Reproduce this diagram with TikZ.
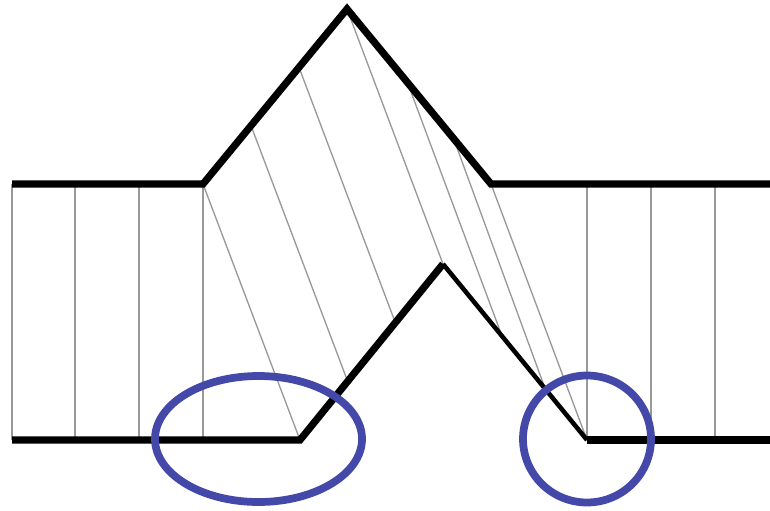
\documentclass[tikz,border=0pt]{standalone}
\usepackage{xcolor}
\usepackage{tikz}
\usetikzlibrary{calc}

\definecolor{ringblue}{RGB}{68,72,168}

\begin{document}
\begin{tikzpicture}[
  x=0.75pt, y=-0.75pt,
  signal/.style={line width=5.4pt, line join=miter},
  thinsignal/.style={line width=3.4pt},
  link/.style={line width=1pt, gray!80},
  ring/.style={line width=5.8pt, ringblue}
]
\useasboundingbox (0,0) rectangle (770,510);

% Upper signal
\coordinate (t1) at (12,184);
\coordinate (t2) at (203,184);
\coordinate (t3) at (347,9);
\coordinate (t4) at (491,184);
\coordinate (t5) at (770,184);

% Lower signal
\coordinate (b1) at (12,440);
\coordinate (b2) at (300,440);
\coordinate (b3) at (443,264);
\coordinate (b4) at (587,440);
\coordinate (b5) at (770,440);

% Points on the slopes
\coordinate (ta) at ($(t2)!1/3!(t3)$);
\coordinate (tb) at ($(t2)!2/3!(t3)$);
\coordinate (tc) at ($(t3)!0.42!(t4)$);
\coordinate (td) at ($(t3)!0.74!(t4)$);
\coordinate (ba) at ($(b2)!1/3!(b3)$);
\coordinate (bb) at ($(b2)!2/3!(b3)$);
\coordinate (bc) at ($(b3)!0.41!(b4)$);
\coordinate (bd) at ($(b3)!0.71!(b4)$);

% Flat stretches
\foreach \x [count=\i] in {12,75,139,203,587,651,715} {
  \coordinate (tv\i) at (\x,184);
  \coordinate (bv\i) at (\x,440);
  \draw[link] (tv\i) -- (bv\i);
}

% Warping links
\foreach \u/\v in {t2/b2, ta/ba, tb/bb, t3/b3, tc/bc, td/bd, t4/b4} {
  \draw[link] (\u) -- (\v);
}

\draw[signal] (t1) -- (t2) -- (t3) -- (t4) -- (t5);
\draw[signal] (b1) -- (b2) -- (b3);
\draw[thinsignal] (b3) -- (b4);
\draw[signal] (b4) -- (b5);

% Marked regions
\draw[ring] (258.5,439) ellipse [x radius=103.5, y radius=63];
\draw[ring] (587,439) ellipse [x radius=64, y radius=63.5];

\end{tikzpicture}
\end{document}
